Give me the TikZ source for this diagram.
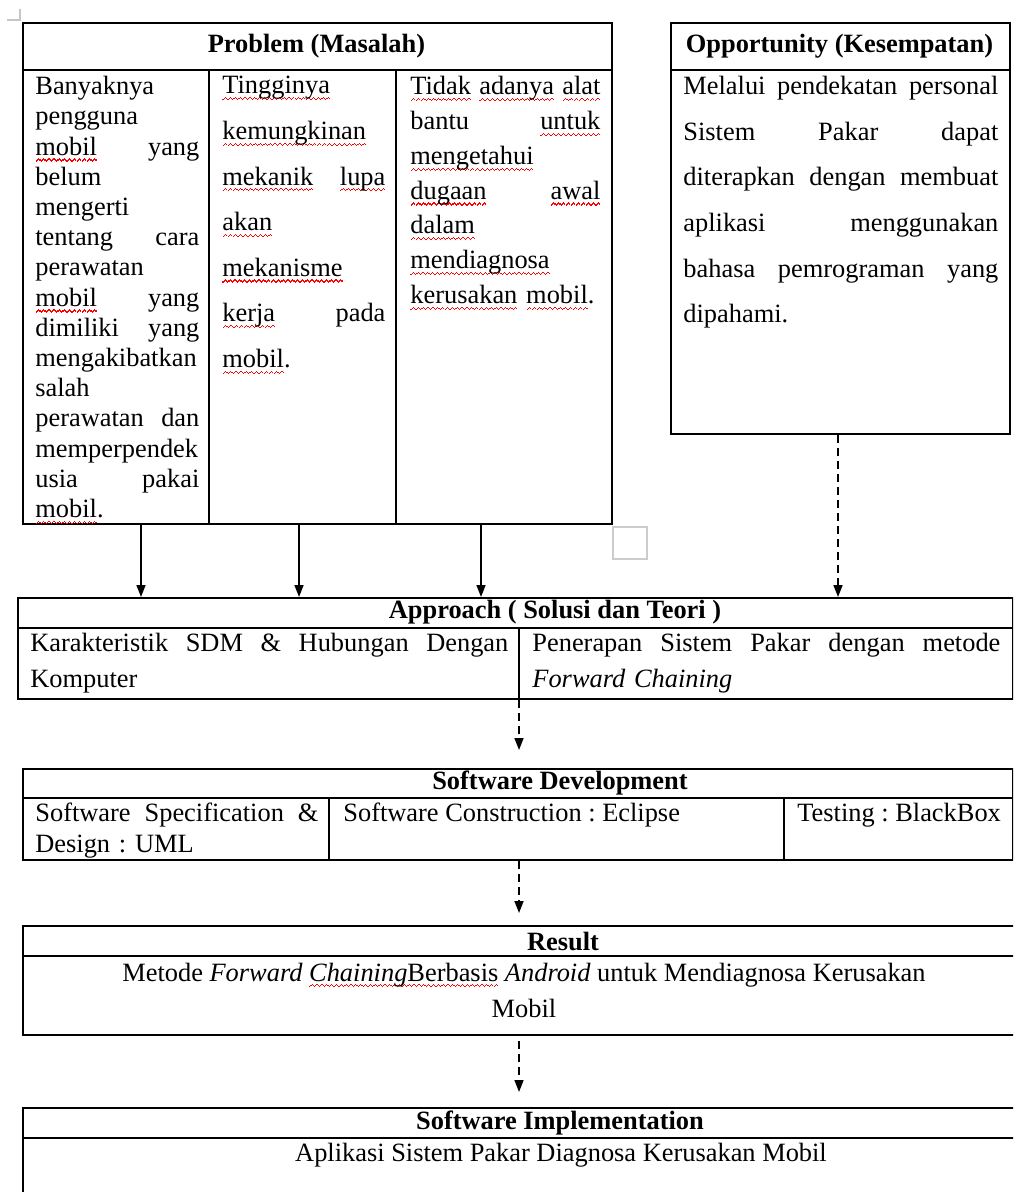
\documentclass[tikz,border=0pt]{standalone}
\usepackage{fontspec}
\setmainfont{Liberation Serif}
\usetikzlibrary{arrows.meta,calc,positioning}

\newcommand\wavebit{\hbox{\rule{0.6pt}{0.6pt}\raisebox{0.5pt}{\rule{0.6pt}{0.6pt}}\raisebox{1pt}{\rule{0.6pt}{0.6pt}}\raisebox{0.5pt}{\rule{0.6pt}{0.6pt}}}}
\newcommand\squig[1]{\leavevmode\setbox0\hbox{#1}\rlap{\lower3.2pt\hbox to\wd0{\color{red}\xleaders\wavebit\hfil}}#1}
\newcommand\bodyfont[1]{\fontsize{13.2}{#1}\selectfont\frenchspacing}

\begin{document}
\begin{tikzpicture}[x=0.5pt, y=-0.5pt,
    box/.style={draw, line width=1pt, inner sep=0pt, anchor=north west},
    grid/.style={line width=1pt},
    head/.style={inner sep=0pt, font=\bodyfont{15}\bfseries},
    txt/.style={inner sep=0pt, anchor=north west, align=left},
    arr/.style={line width=0.8pt, -{Triangle[length=6pt,width=4.5pt]}},
    darr/.style={arr, dash pattern=on 4pt off 2.5pt}]
    \useasboundingbox (0,0) rectangle (1013,1192);
    \clip (0,0) rectangle (1013,1192);

    \draw[gray!45, line width=0.8pt] (7,20) -- (20,20) -- (20,9);

    \node[box, minimum width=294.5pt, minimum height=250.5pt] (prob) at (22,22) {};
    \draw[grid] (22,70) -- (611,70);
    \draw[grid] (209,70) -- (209,523);
    \draw[grid] (396,70) -- (396,523);
    \node[head] (probH) at (316.5,46) {Problem (Masalah)};
    \node[txt, text width=82pt, font=\bodyfont{15.1}] (probA) at (35,76) {Banyaknya\\ pengguna\\ \squig{mobil}\hfill yang\\ belum\\ mengerti\\ tentang\hfill cara\\ perawatan\\ \squig{mobil}\hfill yang\\ dimiliki\hfill yang\\ mengakibatkan\\ salah\\ perawatan\hfill dan\\ memperpendek\\ usia\hfill pakai\\ \squig{mobil}.};
    \node[txt, text width=81.5pt, font=\bodyfont{22.8}] (probB) at (222,76) {\squig{Tingginya}\\ \squig{kemungkinan}\\ \squig{mekanik}\hfill\squig{lupa}\\ \squig{akan}\\ \squig{mekanisme}\\ \squig{kerja}\hfill pada\\ \squig{mobil}.};
    \node[txt, text width=95pt, font=\bodyfont{17.4}] (probC) at (410,76) {\squig{Tidak}\hfill\squig{adanya}\hfill\squig{alat}\\ bantu\hfill\squig{untuk}\\ \squig{mengetahui}\\ \squig{dugaan}\hfill\squig{awal}\\ \squig{dalam}\\ \squig{mendiagnosa}\\ \squig{kerusakan} \squig{mobil}.};

    \node[box, minimum width=169.5pt, minimum height=205.5pt] (opp) at (670,22) {};
    \draw[grid] (670,70) -- (1009,70);
    \node[head] (oppH) at (839.5,46) {Opportunity (Kesempatan)};
    \node[txt, text width=157.5pt, font=\bodyfont{22.8}] (oppT) at (683,76) {Melalui\hfill pendekatan\hfill personal\\ Sistem\hfill Pakar\hfill dapat\\ diterapkan\hfill dengan\hfill membuat\\ aplikasi\hfill menggunakan\\ bahasa\hfill pemrograman\hfill yang\\ dipahami.};

    \draw[gray!40, line width=0.6pt] (613,527) rectangle (647,559);

    \node[box, minimum width=497.5pt, minimum height=50.5pt] (appr) at (17,597) {};
    \draw[grid] (17,628) -- (1012,628);
    \draw[grid] (519,628) -- (519,698);
    \node[head] (apprH) at (555,612) {Approach ( Solusi dan Teori )};
    \node[txt, text width=239pt, font=\bodyfont{18}] (apprL) at (30,633) {Karakteristik\hfill SDM\hfill \&\hfill Hubungan\hfill Dengan\\ Komputer};
    \node[txt, text width=234pt, font=\bodyfont{18}] (apprR) at (532,633) {Penerapan\hfill Sistem\hfill Pakar\hfill dengan\hfill metode\\ \textit{Forward Chaining}};

    \node[box, minimum width=495pt, minimum height=45.5pt] (dev) at (22,768) {};
    \draw[grid] (22,798) -- (1012,798);
    \draw[grid] (329,798) -- (329,859);
    \draw[grid] (784,798) -- (784,859);
    \node[head] (devH) at (560,783) {Software Development};
    \node[txt, text width=141.5pt, font=\bodyfont{15.5}] (devL) at (35,803) {Software\hfill Specification\hfill \&\\ Design : UML};
    \node[txt, font=\bodyfont{15.5}] (devM) at (343,803) {Software Construction : Eclipse};
    \node[txt, font=\bodyfont{15.5}] (devR) at (797,803) {Testing : BlackBox};

    \node[box, minimum width=539pt, minimum height=54.5pt] (res) at (22,925) {};
    \draw[grid] (22,956) -- (1100,956);
    \node[head] (resH) at (563,941) {Result};
    \node[inner sep=0pt, align=center, font=\bodyfont{18}] (resT) at (524,990) {Metode \textit{Forward} \squig{\textit{Chaining}Berbasis} \textit{Android} untuk Mendiagnosa Kerusakan\\ Mobil};

    \node[box, minimum width=539pt, minimum height=61.5pt] (impl) at (22,1107) {};
    \draw[grid] (22,1138) -- (1100,1138);
    \node[head] (implH) at (560,1123) {Software Implementation};
    \node[inner sep=0pt, font=\bodyfont{18}] (implT) at (561,1155) {Aplikasi Sistem Pakar Diagnosa Kerusakan Mobil};

    \coordinate (pA) at (141,0);
    \coordinate (pB) at (299,0);
    \coordinate (pC) at (481,0);
    \coordinate (pD) at (838,0);
    \coordinate (mid) at (519,0);
    \draw[arr] (prob.south -| pA) -- (appr.north -| pA);
    \draw[arr] (prob.south -| pB) -- (appr.north -| pB);
    \draw[arr] (prob.south -| pC) -- (appr.north -| pC);
    \draw[darr] (opp.south -| pD) -- (appr.north -| pD);
    \draw[darr] (appr.south -| mid) -- ([yshift=9pt]dev.north -| mid);
    \draw[darr] (dev.south -| mid) -- ([yshift=6pt]res.north -| mid);
    \draw[darr] ([yshift=-2.5pt]res.south -| mid) -- ([yshift=7.5pt]impl.north -| mid);
\end{tikzpicture}
\end{document}
